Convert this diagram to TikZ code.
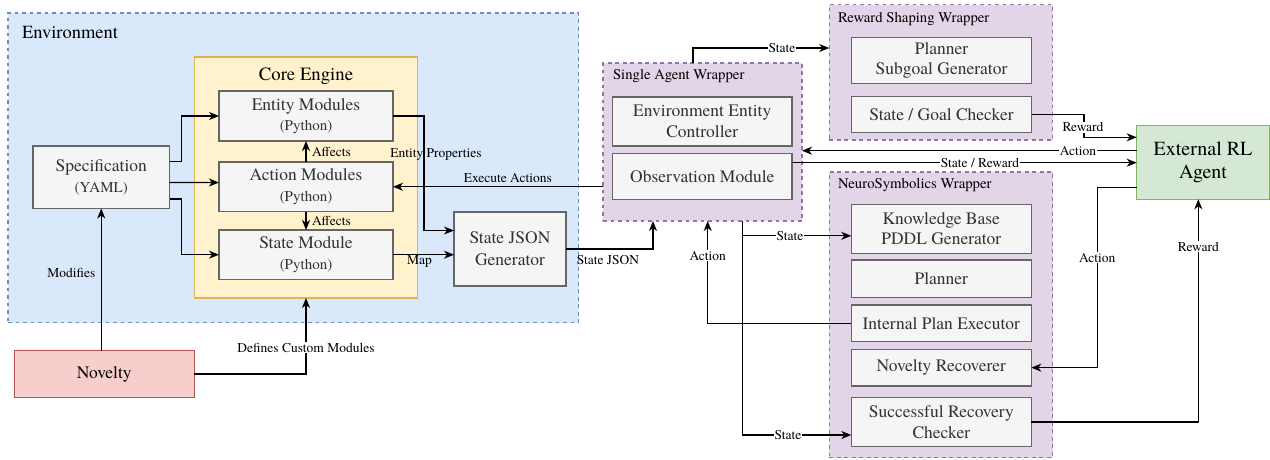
\documentclass[tikz,border=0pt]{standalone}
\usepackage{fontspec}
\setmainfont{texgyretermes}[Extension=.otf,UprightFont=*-regular,BoldFont=*-bold,ItalicFont=*-italic,BoldItalicFont=*-bolditalic]
\newfontfamily\tnr{texgyretermes}[Extension=.otf,UprightFont=*-regular,BoldFont=*-bold,ItalicFont=*-italic,BoldItalicFont=*-bolditalic]
\usetikzlibrary{arrows.meta,calc}
\definecolor{envfill}{HTML}{DAE8FC}
\definecolor{envline}{HTML}{6C8EBF}
\definecolor{corefill}{HTML}{FFF2CC}
\definecolor{coreline}{HTML}{D6B656}
\definecolor{boxfill}{HTML}{F5F5F5}
\definecolor{boxline}{HTML}{666666}
\definecolor{boxtext}{HTML}{333333}
\definecolor{wrapfill}{HTML}{E1D5E7}
\definecolor{wrapline}{HTML}{9673A6}
\definecolor{novfill}{HTML}{F8CECC}
\definecolor{novline}{HTML}{B85450}
\definecolor{agfill}{HTML}{D5E8D4}
\definecolor{agline}{HTML}{82B366}
\begin{document}
\begin{tikzpicture}[x=1pt,y=-1pt,
  every node/.style={inner sep=0pt,outer sep=0pt},
  modbox/.style={draw=boxline,fill=boxfill,line width=1.2pt,text=boxtext,align=center,font=\tnr\fontsize{17.5}{20.5}\selectfont},
  container/.style={line width=1.2pt,dash pattern=on 3.75pt off 3.75pt},
  arr/.style={line width=1.2pt,-{Stealth[length=10pt,width=8pt,inset=3pt]}},
  elabel/.style={font=\tnr\fontsize{13.5}{16}\selectfont,inner sep=1pt},
  wlabel/.style={elabel,fill=white},
  wtitle/.style={font=\tnr\fontsize{14.75}{18}\selectfont,anchor=west}
]
\useasboundingbox (0,0) rectangle (1270,459);
% containers
\node[container,draw=envline,fill=envfill,minimum width=570.5pt,minimum height=309.5pt] (env) at (293.25,167.75) {};
\node[draw=coreline,fill=corefill,line width=1.2pt,minimum width=223pt,minimum height=241pt] (core) at (306,177.5) {};
\node[container,draw=wrapline,fill=wrapfill,minimum width=199pt,minimum height=158pt] (saw) at (702.5,142) {};
\node[container,draw=wrapline,fill=wrapfill,minimum width=223.4pt,minimum height=135.3pt] (rsw) at (941,72.35) {};
\node[container,draw=wrapline,fill=wrapfill,minimum width=223.2pt,minimum height=285.5pt] (nsw) at (940.9,314.75) {};
% titles
\node[anchor=west,font=\tnr\fontsize{18.5}{22}\selectfont] (envt) at (22,33) {Environment};
\node[font=\tnr\fontsize{18.75}{22}\selectfont] (coret) at (306,76) {Core Engine};
\node[wtitle] (sawt) at (613,76) {Single Agent Wrapper};
\node[wtitle] (rswt) at (838,19.3) {Reward Shaping Wrapper};
\node[wtitle] (nswt) at (838,185) {NeuroSymbolics Wrapper};
% boxes
\node[modbox,minimum width=174pt,minimum height=50pt] (entity) at (306,116) {Entity Modules\\{\fontsize{15}{20.5}\selectfont (Python)}};
\node[modbox,minimum width=174pt,minimum height=49.5pt] (action) at (306,186.75) {Action Modules\\{\fontsize{15}{20.5}\selectfont (Python)}};
\node[modbox,minimum width=174pt,minimum height=49.5pt] (state) at (306,254.7) {State Module\\{\fontsize{15}{20.5}\selectfont (Python)}};
\node[modbox,minimum width=136.5pt,minimum height=62.5pt] (spec) at (101.25,177.25) {Specification\\{\fontsize{15}{20.5}\selectfont (YAML)}};
\node[modbox,minimum width=112pt,minimum height=74pt,font=\tnr\fontsize{17.5}{22}\selectfont] (sjg) at (510,249) {State JSON\\Generator};
\node[draw=novline,fill=novfill,line width=1.2pt,minimum width=180pt,minimum height=46.6pt,font=\tnr\fontsize{17.5}{20.5}\selectfont] (novelty) at (104.3,374) {Novelty};
\node[modbox,minimum width=179.5pt,minimum height=49pt] (eec) at (702.25,121.5) {Environment Entity\\Controller};
\node[modbox,minimum width=179.5pt,minimum height=46pt] (obs) at (702.25,176.3) {Observation Module};
\node[modbox,minimum width=180.4pt,minimum height=45.6pt] (psg) at (941.5,60.5) {Planner\\Subgoal Generator};
\node[modbox,minimum width=180.4pt,minimum height=36pt] (sgc) at (941.5,114.7) {State / Goal Checker};
\node[modbox,minimum width=180pt,minimum height=49pt] (kb) at (941.3,228.8) {Knowledge Base\\PDDL Generator};
\node[modbox,minimum width=180pt,minimum height=37.3pt] (planner) at (941.3,278.65) {Planner};
\node[modbox,minimum width=180pt,minimum height=36.7pt] (ipe) at (941.3,323.35) {Internal Plan Executor};
\node[modbox,minimum width=180pt,minimum height=36.7pt] (nr) at (941.3,367.65) {Novelty Recoverer};
\node[modbox,minimum width=180pt,minimum height=49.4pt] (src) at (941.3,422) {Successful Recovery\\Checker};
\node[draw=agline,fill=agfill,line width=1.2pt,minimum width=132.6pt,minimum height=74pt,align=center,font=\tnr\fontsize{20}{23.5}\selectfont] (agent) at (1203,162.3) {External RL\\Agent};
% edges
\draw[arr] ([yshift=15.5pt]spec.east) -- ++(12.2,0) |- (entity.west);
\draw[arr] ([yshift=-5.3pt]spec.east) -- ([yshift=4.25pt]action.west);
\draw[arr] ([yshift=-21.75pt]spec.east) -- ++(12.2,0) |- (state.west);
\draw[arr] (action.north) -- (entity.south) node[midway,right=5pt,elabel] {Affects};
\draw[arr] (action.south) -- (state.north) node[midway,right=5pt,elabel] {Affects};
\draw[arr] (entity.east) -- ++(31,0) |- ([yshift=18.5pt]sjg.west);
\draw[arr] (state.east) -- (sjg.west |- state.east);
\draw[arr] (saw.west |- action.east) -- (action.east);
\draw[arr] (sjg.east) -| ([xshift=-49.5pt]saw.south);
\draw[arr] (ipe.west) -| ([xshift=5.2pt]saw.south);
\draw[arr] ([xshift=40.2pt]saw.south) |- ([yshift=-7pt]kb.west);
\draw[arr] ([xshift=40.2pt]saw.south) |- ([yshift=-13pt]src.west);
\draw[arr] ([xshift=-9.5pt]saw.north) |- ([yshift=24.35pt]rsw.west);
\draw[arr] (sgc.east) -- ++(52.3,0) |- ([yshift=25pt]agent.west);
\draw[arr] ([yshift=11.6pt]agent.west) coordinate (a1) -- (a1 -| saw.east);
\draw[arr] ([yshift=13.6pt]obs.east) coordinate (b1) -- (b1 -| agent.west);
\draw[arr] ([yshift=-25pt]agent.west) -- ++(-39.4,0) |- (nr.east);
\draw[arr] (src.east) -| ([xshift=-4.7pt]agent.south);
\draw[arr] (spec.south |- novelty.north) -- (spec.south);
\draw[arr] (novelty.east) -| (core.south);
% edge labels
\node[elabel] (lep) at (436,154.7) {Entity Properties};
\node[elabel] (lmap) at (419.5,261.7) {Map};
\node[elabel] (lexe) at (507.8,177.7) {Execute Actions};
\node[elabel] (lsj) at (608,260) {State JSON};
\node[wlabel] (lact1) at (707.7,255.7) {Action};
\node[wlabel] (lst1) at (790,235.7) {State};
\node[wlabel] (lst2) at (788,435) {State};
\node[wlabel] (lst3) at (782,48) {State};
\node[wlabel] (lrew1) at (1083,127.3) {Reward};
\node[wlabel] (lact2) at (1078,150.7) {Action};
\node[wlabel] (lsr) at (980,162.7) {State / Reward};
\node[wlabel] (lact3) at (1097.3,257.7) {Action};
\node[wlabel] (lrew2) at (1198.3,246.7) {Reward};
\node[elabel] (lmod) at (71.3,273.3) {Modifies};
\node[wlabel] (ldef) at (306,347.7) {Defines Custom Modules};
\end{tikzpicture}
\end{document}
